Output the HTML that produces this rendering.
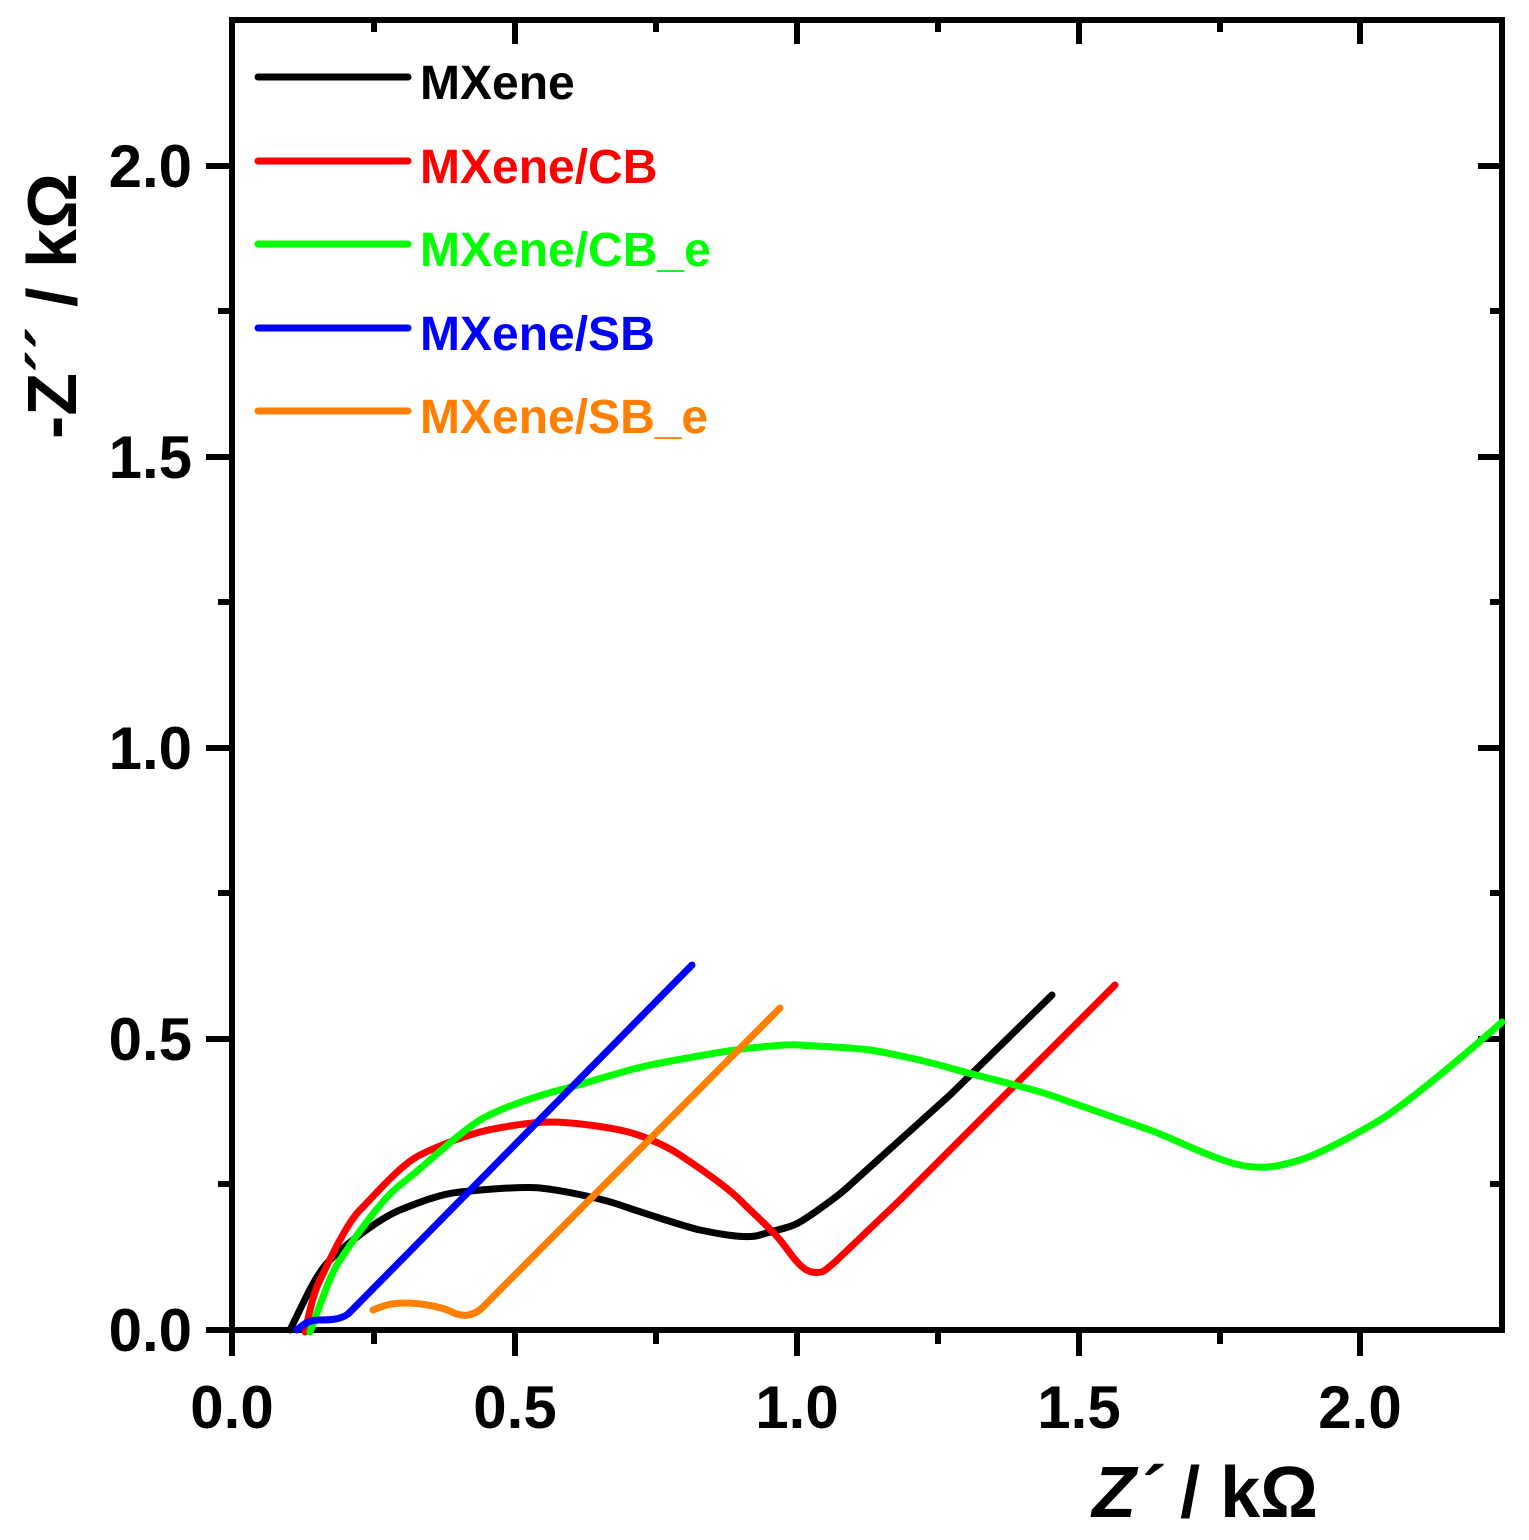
<!DOCTYPE html>
<html><head><style>body{margin:0;background:#fff}</style></head><body>
<svg width="1529" height="1535" xmlns="http://www.w3.org/2000/svg" font-family="Liberation Sans, Arial, sans-serif" font-weight="bold">
<rect x="232" y="20" width="1270" height="1310" fill="none" stroke="#000" stroke-width="6"/>
<g stroke="#000" stroke-width="6">
<line x1="206" y1="1330" x2="232" y2="1330"/><line x1="206" y1="1039" x2="232" y2="1039"/><line x1="206" y1="748" x2="232" y2="748"/><line x1="206" y1="457" x2="232" y2="457"/><line x1="206" y1="166" x2="232" y2="166"/>
<line x1="218" y1="1184" x2="232" y2="1184"/><line x1="218" y1="893" x2="232" y2="893"/><line x1="218" y1="602" x2="232" y2="602"/><line x1="218" y1="311" x2="232" y2="311"/>
<line x1="1478" y1="1039" x2="1502" y2="1039"/><line x1="1478" y1="748" x2="1502" y2="748"/><line x1="1478" y1="457" x2="1502" y2="457"/><line x1="1478" y1="166" x2="1502" y2="166"/>
<line x1="1490" y1="1184" x2="1502" y2="1184"/><line x1="1490" y1="893" x2="1502" y2="893"/><line x1="1490" y1="602" x2="1502" y2="602"/><line x1="1490" y1="311" x2="1502" y2="311"/>
<line x1="232" y1="1330" x2="232" y2="1356"/><line x1="515" y1="1330" x2="515" y2="1356"/><line x1="797" y1="1330" x2="797" y2="1356"/><line x1="1079" y1="1330" x2="1079" y2="1356"/><line x1="1360" y1="1330" x2="1360" y2="1356"/>
<line x1="374" y1="1330" x2="374" y2="1344"/><line x1="656" y1="1330" x2="656" y2="1344"/><line x1="938" y1="1330" x2="938" y2="1344"/><line x1="1220" y1="1330" x2="1220" y2="1344"/>
<line x1="374" y1="20" x2="374" y2="32"/><line x1="515" y1="20" x2="515" y2="44"/><line x1="656" y1="20" x2="656" y2="32"/><line x1="797" y1="20" x2="797" y2="44"/><line x1="938" y1="20" x2="938" y2="32"/><line x1="1079" y1="20" x2="1079" y2="44"/><line x1="1220" y1="20" x2="1220" y2="32"/><line x1="1360" y1="20" x2="1360" y2="44"/>
</g>
<g font-size="60" text-anchor="end">
<text x="192" y="1351">0.0</text><text x="192" y="1060">0.5</text><text x="192" y="769">1.0</text><text x="192" y="478">1.5</text><text x="192" y="187">2.0</text>
</g>
<g font-size="60" text-anchor="middle">
<text x="232" y="1428">0.0</text><text x="515" y="1428">0.5</text><text x="797" y="1428">1.0</text><text x="1079" y="1428">1.5</text><text x="1360" y="1428">2.0</text>
</g>
<text x="1205" y="1517" font-size="72" text-anchor="middle"><tspan font-style="italic">Z´</tspan> / kΩ</text>
<text transform="translate(76,306) rotate(-90)" font-size="70" text-anchor="middle">-Z´´ / kΩ</text>
<g fill="none" stroke-width="7" stroke-linecap="round" stroke-linejoin="round">
<path stroke="#000" d="M290,1330 C305,1300 315,1275 330,1260 S380,1218 400,1210 S440,1194 460,1192 S520,1186 540,1188 S600,1198 620,1205 S690,1228 700,1230 S745,1240 760,1235 S790,1228 800,1222 S840,1195 850,1185 L950,1095 L1052,995"/>
<path stroke="#f00" d="M305,1332 C312,1300 315,1290 320,1280 S345,1225 360,1210 S400,1165 420,1155 S465,1136 480,1132 S530,1122 550,1122 S600,1126 620,1130 S665,1145 680,1155 S725,1185 740,1200 S770,1228 780,1240 S800,1270 812,1272 S825,1270 835,1262 L900,1200 L1000,1100 L1115,985"/>
<path stroke="#0f0" d="M310,1332 C322,1300 330,1275 340,1260 S380,1200 400,1185 S460,1132 480,1120 S540,1095 560,1090 S630,1069 650,1065 S730,1050 750,1048 S790,1044 800,1045 S850,1047 870,1050 S930,1062 950,1068 S1030,1088 1050,1095 S1130,1123 1150,1130 S1215,1160 1240,1165 S1280,1166 1300,1160 S1360,1132 1380,1120 S1450,1068 1502,1022"/>
<path stroke="#00f" d="M297,1330 C305,1322 312,1320 320,1320 S340,1320 348,1314 L360,1302 L692,965"/>
<path stroke="#ff7f00" d="M373,1310 C385,1305 392,1303 405,1303 S440,1306 452,1312 S475,1316 485,1305 L780,1008"/>
<line stroke="#000" x1="258" y1="77" x2="408" y2="77"/>
<line stroke="#f00" x1="258" y1="161" x2="408" y2="161"/>
<line stroke="#0f0" x1="258" y1="244" x2="408" y2="244"/>
<line stroke="#00f" x1="258" y1="328" x2="408" y2="328"/>
<line stroke="#ff7f00" x1="258" y1="411" x2="408" y2="411"/>
</g>
<g font-size="48">
<text x="420" y="99" fill="#000">MXene</text>
<text x="420" y="183" fill="#f00">MXene/CB</text>
<text x="420" y="266" fill="#0f0">MXene/CB_e</text>
<text x="420" y="350" fill="#00f">MXene/SB</text>
<text x="420" y="433" fill="#ff7f00">MXene/SB_e</text>
</g>
</svg>
</body></html>
